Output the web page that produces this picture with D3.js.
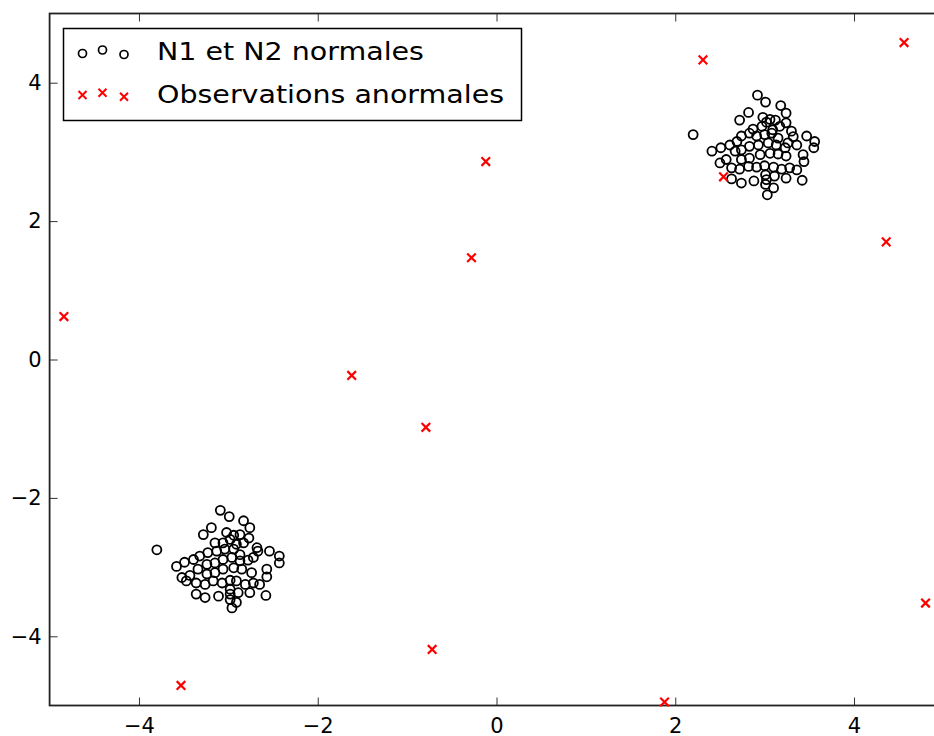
<!DOCTYPE html>
<html>
<head>
<meta charset="utf-8">
<script src="https://cdn.jsdelivr.net/npm/d3@7"></script>
<style>
  body { margin: 0; background: #fff; }
  svg { display: block; font-family: "DejaVu Sans", sans-serif; }
  .axis path { display: none; }
  .axis line { stroke: #333; stroke-width: 1; }
  .axis text { font-size: 21px; fill: #000; font-family: "DejaVu Sans", sans-serif; }
</style>
</head>
<body>
<div id="chart-area"></div>
<script>
// N1 cluster (around 3,3)
var n1X = [2.92, 3.01, 3.18, 3.24, 2.82, 2.72, 2.98, 3.06, 3.12, 3.24, 2.20, 2.87, 2.97, 3.02, 3.09, 3.17, 3.30, 3.32, 3.47, 3.56, 3.55,
           2.41, 2.51, 2.61, 2.69, 2.74, 2.83, 2.91, 3.00, 3.08, 3.15, 3.26, 3.36,
           2.50, 2.57, 2.67, 2.74, 2.83, 2.93, 3.04, 3.13, 3.23,
           2.74, 2.83, 2.95, 3.06, 3.15, 3.24, 3.43, 3.44,
           2.63, 2.72, 2.82, 2.91, 3.00, 3.10, 3.19, 3.28, 3.36,
           2.63, 2.74, 2.88, 3.01, 3.02, 3.11, 3.24, 3.42, 3.03, 3.10, 3.01];
var n1Y = [3.82, 3.72, 3.67, 3.56, 3.57, 3.46, 3.50, 3.47, 3.46, 3.42, 3.25, 3.33, 3.37, 3.43, 3.32, 3.37, 3.30, 3.22, 3.23, 3.15, 3.06,
           3.01, 3.06, 3.10, 3.15, 3.23, 3.27, 3.23, 3.25, 3.27, 3.20, 3.13, 3.10,
           2.84, 2.89, 3.01, 3.03, 3.08, 3.10, 3.13, 3.10, 3.06,
           2.89, 2.91, 2.96, 2.98, 2.97, 2.94, 2.96, 2.86,
           2.77, 2.75, 2.79, 2.78, 2.80, 2.78, 2.75, 2.77, 2.74,
           2.61, 2.55, 2.58, 2.67, 2.60, 2.65, 2.62, 2.59, 2.38, 2.48, 2.53];

// N2 cluster (around -3,-3)
var n2X = [-3.09, -2.99, -2.83, -2.76, -3.19, -3.28, -3.02, -2.94, -2.87, -2.77, -3.80, -3.15, -3.06, -2.98, -2.91, -2.83, -2.68, -2.67, -2.54, -2.43, -2.43,
           -3.58, -3.49, -3.39, -3.32, -3.23, -3.13, -3.04, -2.94, -2.87, -2.72,
           -3.52, -3.43, -3.34, -3.24, -3.15, -3.06, -2.96, -2.87, -2.78,
           -3.24, -3.15, -3.06, -2.94, -2.85, -2.74, -2.57, -2.57,
           -3.47, -3.36, -3.26, -3.17, -3.07, -2.98, -2.91, -2.81, -2.72, -2.65,
           -3.36, -3.26, -3.11, -2.98, -2.98, -2.89, -2.76, -2.58, -2.96, -2.91, -2.98];
var n2Y = [-2.18, -2.27, -2.33, -2.43, -2.43, -2.53, -2.50, -2.54, -2.53, -2.58, -2.75, -2.65, -2.65, -2.60, -2.67, -2.65, -2.72, -2.77, -2.77, -2.84, -2.94,
           -2.99, -2.93, -2.89, -2.84, -2.79, -2.77, -2.74, -2.74, -2.82, -2.86,
           -3.15, -3.12, -3.03, -2.96, -2.94, -2.89, -2.86, -2.91, -2.90,
           -3.10, -3.08, -3.03, -3.01, -3.03, -3.08, -3.03, -3.14,
           -3.20, -3.23, -3.25, -3.20, -3.23, -3.19, -3.20, -3.25, -3.23, -3.25,
           -3.39, -3.44, -3.42, -3.32, -3.39, -3.37, -3.37, -3.41, -3.59, -3.51, -3.47];

// anomalies
var outX = [-4.84, -1.62, -0.79, -0.28, -0.12, 2.31, 4.56, 4.36, 2.54, 4.80, 1.88, -0.72, -3.53];
var outY = [0.62, -0.23, -0.98, 1.47, 2.86, 4.33, 4.58, 1.70, 2.64, -3.52, -4.95, -4.19, -4.71];

var tickValues = [-4, -2, 0, 2, 4];
var legendLabels = ["N1 et N2 normales", "Observations anormales"];

var normals = n1X.map(function(d, i) { return {x: d, y: n1Y[i]}; })
    .concat(n2X.map(function(d, i) { return {x: d, y: n2Y[i]}; }));
var outliers = outX.map(function(d, i) { return {x: d, y: outY[i]}; });

var W = 934, H = 736;
var svg = d3.select("#chart-area").append("svg")
    .attr("width", W)
    .attr("height", H);

svg.append("rect").attr("width", W).attr("height", H).attr("fill", "#fff");

// plot box (right edge falls just outside the picture)
var plotLeft = 49.6, plotRight = 943.4, plotTop = 13.5, plotBottom = 705.5;

var x = d3.scaleLinear().domain([-5, 5]).range([plotLeft, plotRight]);
var y = d3.scaleLinear().domain([-5, 5]).range([plotBottom, plotTop]);

var fmt = d3.format("d");

svg.append("g")
    .attr("class", "axis")
    .attr("transform", "translate(0," + plotBottom + ")")
    .call(d3.axisBottom(x).tickValues(tickValues).tickFormat(fmt).tickSize(-8).tickPadding(13));

svg.append("g")
    .attr("class", "axis")
    .attr("transform", "translate(" + plotLeft + ",0)")
    .call(d3.axisLeft(y).tickValues(tickValues).tickFormat(fmt).tickSize(-8).tickPadding(8));

// top + right ticks, no labels
svg.append("g")
    .attr("class", "axis")
    .attr("transform", "translate(0," + plotTop + ")")
    .call(d3.axisTop(x).tickValues(tickValues).tickFormat("").tickSize(-8));

svg.append("g")
    .attr("class", "axis")
    .attr("transform", "translate(" + plotRight + ",0)")
    .call(d3.axisRight(y).tickValues(tickValues).tickFormat("").tickSize(-8));

// frame
svg.append("rect")
    .attr("x", plotLeft).attr("y", plotTop)
    .attr("width", plotRight - plotLeft).attr("height", plotBottom - plotTop)
    .attr("fill", "none")
    .attr("stroke", "#222")
    .attr("stroke-width", 1.8);

var crossPath = function(s) {
  return "M" + (-s) + "," + (-s) + "L" + s + "," + s + "M" + (-s) + "," + s + "L" + s + "," + (-s);
};

svg.append("g").selectAll("circle")
    .data(normals)
  .enter().append("circle")
    .attr("cx", function(d) { return x(d.x); })
    .attr("cy", function(d) { return y(d.y); })
    .attr("r", 4.5)
    .attr("fill", "none")
    .attr("stroke", "#000")
    .attr("stroke-width", 1.8);

svg.append("g").selectAll("path")
    .data(outliers)
  .enter().append("path")
    .attr("transform", function(d) { return "translate(" + x(d.x) + "," + y(d.y) + ")"; })
    .attr("d", crossPath(4.3))
    .attr("fill", "none")
    .attr("stroke", "#f00")
    .attr("stroke-width", 2.2);

// legend
var legend = svg.append("g");

legend.append("rect")
    .attr("x", 63.5).attr("y", 28.5)
    .attr("width", 458).attr("height", 92)
    .attr("fill", "#fff")
    .attr("stroke", "#000")
    .attr("stroke-width", 1.5);

var legX = [82.5, 102.5, 124];
var legCircY = [53.5, 50, 54.5];
var legCrossY = [95, 92.7, 96.7];

legend.selectAll(".leg-circle")
    .data(legX)
  .enter().append("circle")
    .attr("class", "leg-circle")
    .attr("cx", function(d) { return d; })
    .attr("cy", function(d, i) { return legCircY[i]; })
    .attr("r", 4)
    .attr("fill", "none")
    .attr("stroke", "#000")
    .attr("stroke-width", 1.7);

legend.selectAll(".leg-cross")
    .data(legX)
  .enter().append("path")
    .attr("class", "leg-cross")
    .attr("transform", function(d, i) { return "translate(" + d + "," + legCrossY[i] + ")"; })
    .attr("d", crossPath(4))
    .attr("fill", "none")
    .attr("stroke", "#f00")
    .attr("stroke-width", 2);

legend.selectAll(".leg-text")
    .data(legendLabels)
  .enter().append("text")
    .attr("class", "leg-text")
    .attr("transform", function(d, i) { return "translate(157," + (60 + i * 42.5) + ") scale(1.14,1)"; })
    .attr("font-size", "25px")
    .attr("fill", "#000")
    .text(function(d) { return d; });
</script>
</body>
</html>
